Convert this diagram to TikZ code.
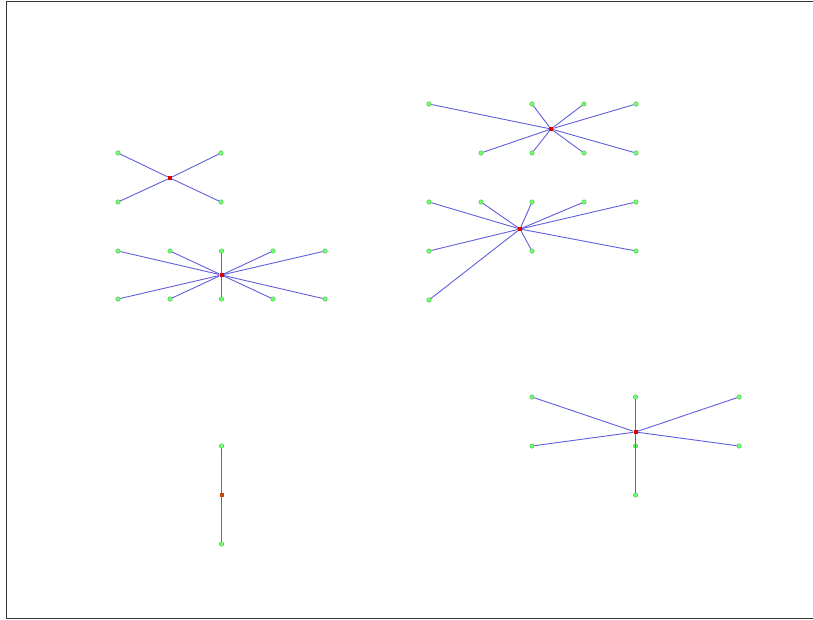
\documentclass[tikz,border=0pt]{standalone}
\begin{document}
\begin{tikzpicture}[x=1pt,y=-1pt,
  leaf/.style={circle,draw=green!60!black!70,fill=green!70!white!80,inner sep=0pt,minimum size=4.5pt,line width=0.4pt},
  hub/.style={rectangle,fill=red!85!black,inner sep=0pt,minimum size=4pt},
  hubo/.style={rectangle,fill=orange!70!red!80!black,inner sep=0pt,minimum size=4pt},
  edge/.style={draw={rgb,255:red,95;green,95;blue,220},line width=0.9pt}]
\useasboundingbox (0,0) rectangle (813,619);
\draw[line width=1pt,draw=black!80] (817,1) -- (6,1) -- (6,618) -- (817,618);
% star 1
\node[hub] (a0) at (170,178) {};
\foreach \i/\x/\y in {1/118/153,2/221/153,3/118/202,4/221/202}{
  \node[leaf] (a\i) at (\x,\y) {};
  \draw[edge] (a0) -- (a\i);
}
% star 2
\node[hub] (b0) at (551,129) {};
\foreach \i/\x/\y in {1/429/104,2/532/104,3/584/104,4/636/104,5/481/153,6/532/153,7/584/153,8/636/153}{
  \node[leaf] (b\i) at (\x,\y) {};
  \draw[edge] (b0) -- (b\i);
}
% star 3
\node[hub] (c0) at (520,229) {};
\foreach \i/\x/\y in {1/429/202,2/481/202,3/532/202,4/584/202,5/636/202,6/429/251,7/532/251,8/636/251,9/429/300}{
  \node[leaf] (c\i) at (\x,\y) {};
  \draw[edge] (c0) -- (c\i);
}
% star 4
\node[hub] (d0) at (221.5,275) {};
\foreach \i/\x/\y in {1/118/251,2/170/251,3/221.5/251,4/273/251,5/325/251,6/118/299,7/170/299,8/221.5/299,9/273/299,10/325/299}{
  \node[leaf] (d\i) at (\x,\y) {};
  \draw[edge] (d0) -- (d\i);
}
% star 5
\node[hubo] (e0) at (221.5,495) {};
\foreach \i/\x/\y in {1/221.5/446,2/221.5/544}{
  \node[leaf] (e\i) at (\x,\y) {};
  \draw[edge] (e0) -- (e\i);
}
% star 6
\node[hub] (f0) at (635.5,432) {};
\foreach \i/\x/\y in {1/532/397,2/635.5/397,3/739/397,4/532/446,5/635.5/446,6/739/446,7/635.5/495}{
  \node[leaf] (f\i) at (\x,\y) {};
  \draw[edge] (f0) -- (f\i);
}
% redraw hubs on top
\foreach \n in {a0,b0,c0,d0,f0}{\node[hub] at (\n) {};}
\node[hubo] at (e0) {};
\end{tikzpicture}
\end{document}
